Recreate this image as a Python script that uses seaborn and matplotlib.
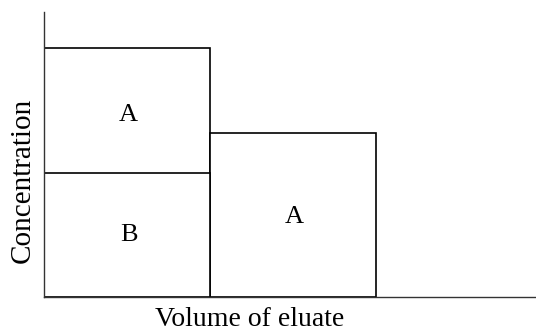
import matplotlib
matplotlib.use("Agg")
import matplotlib.pyplot as plt
import seaborn as sns
import pandas as pd

# Data
fractions = [1, 2]
total_conc = [1.0, 0.66]      # A + B per fraction
b_conc = [0.50, 0.0]          # B per fraction (bottom part)
labels = [("A", 1, 0.73), ("B", 1, 0.25), ("A", 2, 0.32)]
x_label = "Volume of eluate"
y_label = "Concentration"

sns.set_theme(style="white")
plt.rcParams['font.family'] = ['Liberation Serif', 'DejaVu Serif']

fig = plt.figure(figsize=(5.36, 3.34), dpi=100)
ax = fig.add_axes([44/536, 37/334, 1 - 44/536, (297-12)/334])

df_tot = pd.DataFrame({"fraction": fractions, "conc": total_conc})
df_b = pd.DataFrame({"fraction": fractions, "conc": b_conc})

sns.barplot(data=df_tot, x="fraction", y="conc", native_scale=True, width=1.0,
            color="white", edgecolor="black", linewidth=1.2, ax=ax, saturation=1)
sns.barplot(data=df_b[df_b["conc"] > 0], x="fraction", y="conc", native_scale=True, width=1.0,
            color="white", edgecolor="black", linewidth=1.2, ax=ax, saturation=1)

for txt, xv, yv in labels:
    ax.text(xv + 0.01, yv, txt, ha="center", va="center", fontsize=19, color="black")

ax.set_xlim(0.5, 0.5 + 492/166)
ax.set_ylim(0, 285/249)
ax.set_xticks([])
ax.set_yticks([])
ax.set_xlabel(x_label, fontsize=20, color="black")
ax.set_ylabel(y_label, fontsize=21, color="black")
ax.xaxis.set_label_coords((250-44)/492, (297-326)/285)
ax.xaxis.label.set_va("baseline")
ax.yaxis.set_label_coords((23-44)/492, (297-180)/285)
ax.yaxis.label.set_va("center")
for s in ["top", "right"]:
    ax.spines[s].set_visible(False)
for s in ["left", "bottom"]:
    ax.spines[s].set_color("#333333")
    ax.spines[s].set_linewidth(1.0)

fig.savefig("out.png", dpi=100)
